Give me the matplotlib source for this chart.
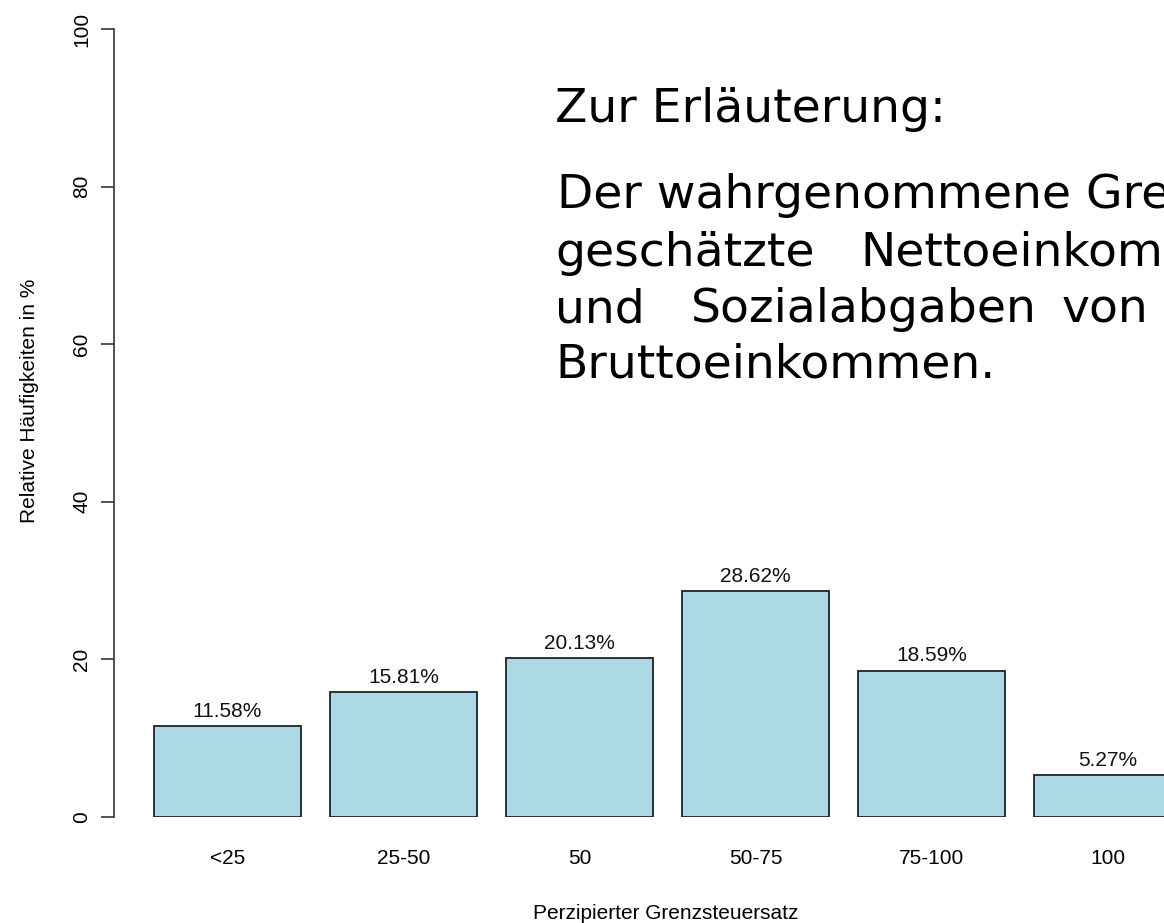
import matplotlib
matplotlib.use("Agg")
import matplotlib.pyplot as plt
import numpy as np

# Data
categories = ["<25", "25-50", "50", "50-75", "75-100", "100"]
shares = [11.58, 15.81, 20.13, 28.62, 18.59, 5.27]
y_ticks = [0, 20, 40, 60, 80, 100]

# Explanation text (justified lines, words placed individually)
note_title = "Zur Erläuterung:"
note_lines = [
    ["Der wahrgenommene Grenzsteuersatz"],
    ["geschätzte", "Nettoeinkommen"],
    ["und", "Sozialabgaben", "von"],
    ["Bruttoeinkommen."],
]
note_word_x = [[557], [555, 860], [555, 691, 1062], [555]]
note_baselines = [208, 266, 322, 377]

W, H = 1164, 923
plt.rcParams['font.family'] = ['Liberation Sans', 'DejaVu Sans']

fig = plt.figure(figsize=(W / 100, H / 100), dpi=100)

def fx(px):
    return px / W

def fy(py):
    return 1 - py / H

ax = fig.add_axes([fx(114), fy(817), fx(1164) - fx(114), fy(29) - fy(817)])

x = np.arange(len(categories))
ax.bar(x, shares, width=0.833, color='#ADD8E6', edgecolor='#222222', linewidth=1.3)
ax.set_xlim(-0.645, 5.321)
ax.set_ylim(0, 100)

for v, xi in zip(shares, x):
    ax.annotate(f"{v:.2f}%", (xi, v), xytext=(0, 6.5), textcoords='offset points',
                ha='center', va='baseline', fontsize=15, color='#111111')

for s in ['top', 'right', 'bottom']:
    ax.spines[s].set_visible(False)
ax.spines['left'].set_color('#333333')
ax.spines['left'].set_linewidth(1.2)

ax.set_yticks(y_ticks)
ax.tick_params(axis='y', length=9.4, width=1.2, color='#333333', pad=6.8,
               labelsize=15, labelrotation=90)
for lab in ax.get_yticklabels():
    lab.set_va('center')

ax.set_xticks(x)
ax.set_xticklabels(categories)
ax.tick_params(axis='x', length=0, pad=23, labelsize=15)

# Axis titles
fig.text(fx(666), fy(919), "Perzipierter Grenzsteuersatz", fontsize=15,
         ha='center', va='baseline')
fig.text(fx(35), fy(401), "Relative Häufigkeiten in %", fontsize=15,
         ha='center', va='baseline', rotation=90, rotation_mode='anchor')

# Explanation overlay
fig.text(fx(555), fy(122), note_title, fontsize=34, family='DejaVu Sans',
         ha='left', va='baseline')
for words, xs, yb in zip(note_lines, note_word_x, note_baselines):
    for w, xw in zip(words, xs):
        fig.text(fx(xw), fy(yb), w, fontsize=34, family='DejaVu Sans',
                 ha='left', va='baseline')

fig.savefig("out.png", dpi=100)
